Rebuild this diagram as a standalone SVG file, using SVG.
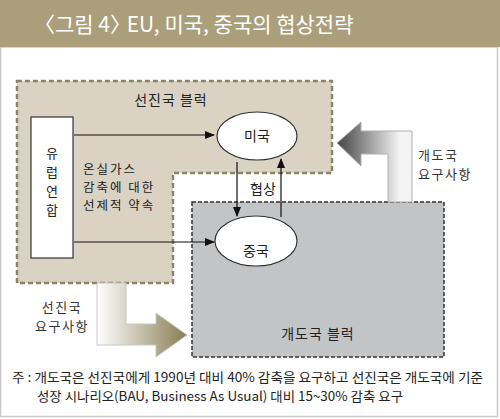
<svg xmlns="http://www.w3.org/2000/svg" width="500" height="419" viewBox="0 0 500 419">
<style>
text{font-family:"Noto Sans CJK KR","Noto Sans",sans-serif;fill:#222;}
.lbl{font-size:14px;}
.sm{font-size:13px;}
.note{font-size:13px;}
.conn{stroke:#111;stroke-width:1.2;fill:none;}
</style>
<defs>
<marker id="ah" markerWidth="10" markerHeight="8" refX="9" refY="4" orient="auto" markerUnits="userSpaceOnUse">
<path d="M0,0 L10,4 L0,8 Z" fill="#111"/>
</marker>
<linearGradient id="gDev" x1="337" y1="0" x2="400" y2="0" gradientUnits="userSpaceOnUse">
<stop offset="0" stop-color="#444"/>
<stop offset="1" stop-color="#f4f4f4"/>
</linearGradient>
<linearGradient id="gAdv" x1="97" y1="0" x2="187" y2="0" gradientUnits="userSpaceOnUse">
<stop offset="0" stop-color="#ffffff"/>
<stop offset="1" stop-color="#8a7d52"/>
</linearGradient>
</defs>
<rect x="0" y="0" width="500" height="419" fill="#fff"/>
<rect x="0.5" y="47" width="497" height="369.5" fill="#fff" stroke="#c8c8c8" stroke-width="1.5"/>
<g id="title">
<rect x="0" y="0" width="500" height="47" fill="#ab9f7b"/>
<text x="34" y="32" font-size="21" style="fill:#fff">〈그림 4〉<tspan dx="-9"> EU, 미국, 중국의 협상전략</tspan></text>
</g>
<g id="developed-bloc">
<path d="M17,81 H332 V173 H173 V283 H17 Z" fill="#dad3c3" stroke="#8b8568" stroke-width="2.5" stroke-dasharray="5 3"/>
<text class="lbl" x="171" y="105" text-anchor="middle" style="letter-spacing:1px">선진국 블럭</text>
</g>
<g id="developing-bloc">
<rect x="192" y="202" width="252" height="155" fill="#c3c4c6" stroke="#333" stroke-width="1.5" stroke-dasharray="4 2"/>
<text class="lbl" x="318" y="339" text-anchor="middle" style="letter-spacing:1px">개도국 블럭</text>
</g>
<g id="eu">
<rect x="31" y="117" width="42" height="141" fill="#fff" stroke="#333" stroke-width="1.2"/>
<text class="sm" text-anchor="middle"><tspan x="52" y="158">유</tspan><tspan x="52" y="177">럽</tspan><tspan x="52" y="196">연</tspan><tspan x="52" y="215">합</tspan></text>
</g>
<g id="usa">
<ellipse cx="257" cy="136" rx="40" ry="24" fill="#fff" stroke="#333" stroke-width="1.2"/>
<text class="lbl" x="257" y="141" text-anchor="middle">미국</text>
</g>
<g id="china">
<ellipse cx="256" cy="241" rx="41" ry="25" fill="#fff" stroke="#333" stroke-width="1.2"/>
<text class="lbl" x="256" y="256" text-anchor="middle">중국</text>
</g>
<g id="connectors">
<line class="conn" x1="74" y1="135" x2="214" y2="135" marker-end="url(#ah)"/>
<line class="conn" x1="74" y1="242" x2="214" y2="242" marker-end="url(#ah)"/>
<line class="conn" x1="237" y1="162" x2="237" y2="216" marker-end="url(#ah)"/>
<line class="conn" x1="281" y1="217" x2="281" y2="159" marker-end="url(#ah)"/>
<path d="M337,143 L361,122 L361,131 L412,131 L412,202 L388,202 L388,154 L361,154 L361,166 Z" fill="url(#gDev)" stroke="#b0b0b0" stroke-width="1"/>
<path d="M97,283 L126,283 L126,324 L156,324 L156,313 L187,335 L156,357 L156,345 L97,345 Z" fill="url(#gAdv)" stroke="#c8c8c8" stroke-width="1"/>
<text style="font-size:12.5px;letter-spacing:2px"><tspan x="83" y="174">온실가스</tspan><tspan x="83" y="192.2">감축에 대한</tspan><tspan x="83" y="210.4">선제적 약속</tspan></text>
<text class="lbl" x="263" y="194" text-anchor="middle">협상</text>
<text class="sm" style="fill:#333;letter-spacing:1.5px"><tspan x="418" y="160">개도국</tspan><tspan x="418" y="179">요구사항</tspan></text>
<text class="sm" text-anchor="middle" style="fill:#333;letter-spacing:1.5px"><tspan x="62" y="312">선진국</tspan><tspan x="62" y="331">요구사항</tspan></text>
</g>
<g id="footnote">
<text class="note" x="12" y="382" textLength="471" lengthAdjust="spacingAndGlyphs">주 : 개도국은 선진국에게 1990년 대비 40% 감축을 요구하고 선진국은 개도국에 기준</text>
<text class="note" x="37" y="401" textLength="366" lengthAdjust="spacingAndGlyphs">성장 시나리오(BAU, Business As Usual) 대비 15~30% 감축 요구</text>
</g>
</svg>
